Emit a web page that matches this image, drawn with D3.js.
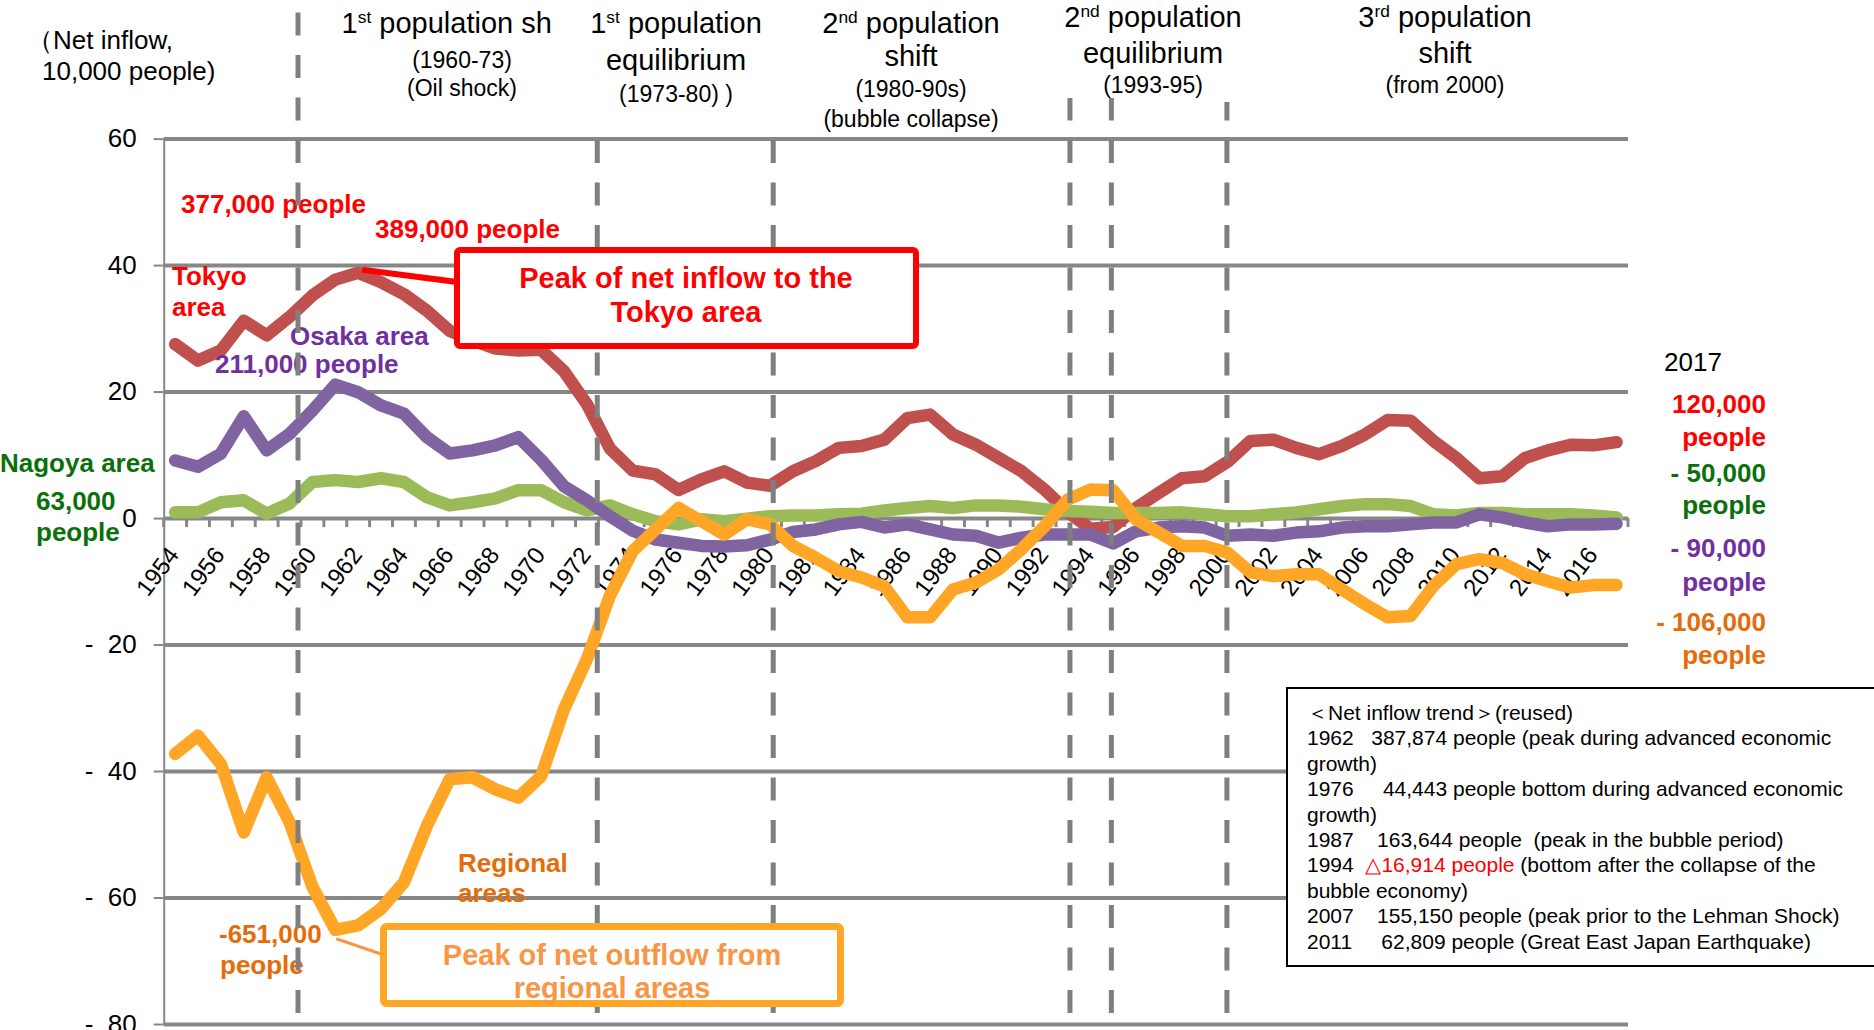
<!DOCTYPE html>
<html>
<head>
<meta charset="utf-8">
<script src="https://cdn.jsdelivr.net/npm/d3@7"></script>
<style>
  html, body { margin: 0; padding: 0; background: #fff; }
  svg { display: block; font-family: "Liberation Sans", Arial, sans-serif; }
</style>
</head>
<body>
<svg id="chart" width="1874" height="1030"></svg>
<script>
// Net inflow by area, units of 10,000 people
const years = [1954,1955,1956,1957,1958,1959,1960,1961,1962,1963,1964,1965,1966,1967,1968,1969,
  1970,1971,1972,1973,1974,1975,1976,1977,1978,1979,1980,1981,1982,1983,1984,1985,1986,1987,1988,1989,
  1990,1991,1992,1993,1994,1995,1996,1997,1998,1999,2000,2001,2002,2003,2004,2005,2006,2007,2008,2009,
  2010,2011,2012,2013,2014,2015,2016,2017];

const tokyoArea = [27.5,24.9,26.5,31.2,28.9,31.8,35.2,37.7,38.8,37.3,35.4,32.8,29.6,28.1,26.8,26.5,
  26.6,23.2,18.0,11.0,7.5,6.9,4.44,6.1,7.4,5.6,5.1,7.4,9.0,11.1,11.4,12.4,15.8,16.36,13.2,11.6,
  9.5,7.4,4.5,1.0,-1.69,-1.4,1.6,4.0,6.3,6.6,8.9,12.2,12.4,11.1,10.1,11.4,13.2,15.52,15.4,12.2,
  9.5,6.28,6.6,9.5,10.7,11.6,11.5,12.0];

const nagoyaArea = [0.9,0.9,2.5,2.8,0.7,2.3,5.7,6.0,5.7,6.3,5.7,3.3,2.0,2.5,3.1,4.4,
  4.4,2.5,1.2,2.0,0.6,-0.5,-1.0,-0.2,-0.5,-0.1,0.3,0.4,0.4,0.6,0.7,1.2,1.6,1.9,1.6,2.0,
  2.0,1.8,1.4,1.1,1.0,0.8,0.8,0.8,0.9,0.6,0.3,0.3,0.6,0.9,1.4,1.9,2.2,2.2,1.9,0.6,
  0.4,0.8,0.8,0.6,0.6,0.6,0.4,0.1];

const osakaArea = [9.1,8.1,10.2,16.1,10.7,13.3,17.0,21.1,19.9,17.8,16.5,12.8,10.2,10.7,11.5,12.8,
  9.2,5.0,2.8,0.3,-2.0,-3.4,-3.9,-4.4,-4.5,-4.3,-3.4,-2.2,-1.8,-1.0,-0.6,-1.5,-1.0,-1.8,-2.6,-2.8,
  -3.9,-3.1,-2.6,-2.6,-2.6,-4.0,-2.1,-1.5,-1.3,-1.5,-2.8,-2.6,-2.8,-2.3,-2.1,-1.5,-1.3,-1.3,-1.0,-0.7,
  -0.7,0.6,0.1,-0.7,-1.3,-1.0,-1.0,-0.9];

const regionalAreas = [-37.3,-34.4,-38.9,-49.7,-41.0,-48.1,-58.3,-65.1,-64.4,-61.8,-57.6,-48.7,-41.3,-41.0,-42.9,-44.2,
  -40.8,-30.2,-22.3,-12.3,-5.2,-1.8,1.6,-0.5,-2.6,-0.2,-1.0,-4.4,-6.3,-8.4,-9.4,-10.8,-15.7,-15.7,-11.3,-10.2,
  -8.1,-4.9,-1.3,2.9,4.5,4.4,-0.2,-2.3,-4.4,-4.4,-5.5,-8.6,-9.2,-8.9,-8.9,-11.3,-13.6,-15.7,-15.5,-10.7,
  -7.3,-6.5,-7.1,-8.9,-10.0,-11.0,-10.6,-10.6];

const yTicks = [60, 40, 20, 0, -20, -40, -60, -80];
const yTickLabels = ["60", "40", "20", "0", "-  20", "-  40", "-  60", "-  80"];

// period boundaries on the year axis
const periodYears = [1960, 1973, 1980, 1993, 1995, 2000];

const trendNotes = [
  {year: "", text: "＜Net inflow trend＞(reused)"},
  {year: "1962", gap: "   ", text: "387,874 people (peak during advanced economic"},
  {year: "", text: "growth)"},
  {year: "1976", gap: "     ", text: "44,443 people bottom during advanced economic"},
  {year: "", text: "growth)"},
  {year: "1987", gap: "    ", text: "163,644 people  (peak in the bubble period)"},
  {year: "1994", gap: "  ", red: "△16,914 people", text: " (bottom after the collapse of the"},
  {year: "", text: "bubble economy)"},
  {year: "2007", gap: "    ", text: "155,150 people (peak prior to the Lehman Shock)"},
  {year: "2011", gap: "     ", text: "62,809 people (Great East Japan Earthquake)"}
];

// ---------------------------------------------------------------------------
const svg = d3.select("#chart");
const left = 163.7, right = 1628;
const x = d3.scaleBand().domain(years).range([left, right]);
const bw = x.bandwidth();
const xc = yr => x(yr) + bw / 2;
const y = d3.scaleLinear().domain([-80, 60]).range([1024, 138.6]);

const GRID = "#878787";

// horizontal gridlines
svg.append("g")
  .attr("transform", `translate(${left},0)`)
  .call(d3.axisLeft(y).tickValues(yTicks).tickSize(-(right - left)).tickSizeOuter(0).tickFormat(""))
  .call(g => {
    g.select(".domain").remove();
    g.selectAll("line").attr("stroke", GRID).attr("stroke-width", 4);
  });

// category tick marks below the zero line, at band edges
const edges = years.map(d => x(d)).concat([x(years[years.length - 1]) + bw]);
svg.append("g").selectAll("line").data(edges).join("line")
  .attr("x1", d => d).attr("x2", d => d)
  .attr("y1", y(0)).attr("y2", y(0) + 9)
  .attr("stroke", GRID).attr("stroke-width", 3);

// value axis
svg.append("g")
  .attr("transform", `translate(${left},0)`)
  .call(d3.axisLeft(y).tickValues(yTicks).tickSize(10).tickSizeOuter(0).tickPadding(17)
    .tickFormat((d, i) => yTickLabels[i]))
  .call(g => {
    g.attr("font-family", null).attr("font-size", 26);
    g.select(".domain").attr("stroke", GRID).attr("stroke-width", 2);
    g.selectAll(".tick line").attr("stroke", GRID).attr("stroke-width", 2);
    g.selectAll("text").attr("fill", "#000").attr("xml:space", "preserve").style("white-space", "pre");
  });

// year labels
svg.append("g")
  .attr("transform", `translate(0,${y(0)})`)
  .call(d3.axisBottom(x).tickValues(years.filter((d, i) => i % 2 === 0)).tickSize(0).tickFormat(d => String(d)))
  .call(g => {
    g.attr("font-family", null).attr("font-size", 24);
    g.select(".domain").remove();
    g.selectAll("text")
      .attr("x", 0).attr("y", 0).attr("dy", 0)
      .attr("fill", "#000")
      .attr("text-anchor", "end")
      .attr("transform", "translate(5,37) rotate(-53)");
  });

// series lines
const series = [
  {name: "Tokyo area", values: tokyoArea, color: "#C0504D"},
  {name: "Nagoya area", values: nagoyaArea, color: "#9BBB59"},
  {name: "Osaka area", values: osakaArea, color: "#8064A2"},
  {name: "Regional areas", values: regionalAreas, color: "#FFA626"}
];
const line = d3.line().x(d => xc(d.year)).y(d => y(d.v));
svg.append("g").selectAll("path").data(series).join("path")
  .attr("d", s => line(s.values.map((v, i) => ({year: years[i], v}))))
  .attr("fill", "none")
  .attr("stroke", s => s.color)
  .attr("stroke-width", 12.5)
  .attr("stroke-linejoin", "round")
  .attr("stroke-linecap", "round");

// text labels on the plot
const labels = svg.append("g").attr("font-weight", "bold").attr("font-size", 26);
function lab(txt, px, py, color, anchor) {
  labels.append("text").attr("x", px).attr("y", py).attr("fill", color)
    .attr("text-anchor", anchor || "start").text(txt);
}
const RED = "#FF0000", PURPLE = "#7030A0", GREEN = "#0B700B", ORANGE = "#E46C0A";
lab("377,000 people", 181, 213, RED);
lab("389,000 people", 375, 238, RED);
lab("Tokyo", 172, 285, RED);
lab("area", 172, 316, RED);
lab("Osaka area", 290, 345, PURPLE);
lab("211,000 people", 215, 373, PURPLE);
lab("Nagoya area", 0, 472, GREEN);
lab("63,000", 36, 510, GREEN);
lab("people", 36, 541, GREEN);
lab("Regional", 458, 872, ORANGE);
lab("areas", 458, 902, ORANGE);
lab("-651,000", 219, 943, ORANGE);
lab("people", 220, 974, ORANGE);

// 2017 values on the right
labels.append("text").attr("x", 1664).attr("y", 371).attr("font-weight", "normal").attr("fill", "#000").text("2017");
lab("120,000", 1766, 413, RED, "end");
lab("people", 1766, 446, RED, "end");
lab("- 50,000", 1766, 482, GREEN, "end");
lab("people", 1766, 514, GREEN, "end");
lab("- 90,000", 1766, 557, PURPLE, "end");
lab("people", 1766, 591, PURPLE, "end");
lab("- 106,000", 1766, 631, ORANGE, "end");
lab("people", 1766, 664, ORANGE, "end");

// dashed period dividers
const dividerNudge = [-0.63, -0.55, 0.14, 0.11, -0.08, -0.03];
const dividerTop = [12, 123, 123, 98, 98, 102];
const DASH = 23, GAP = 19.5, PERIOD = DASH + GAP;
svg.append("g").selectAll("line").data(periodYears).join("line")
  .attr("x1", (d, i) => x(d) + bw * (0.5 + dividerNudge[i]))
  .attr("x2", (d, i) => x(d) + bw * (0.5 + dividerNudge[i]))
  .attr("y1", (d, i) => dividerTop[i])
  .attr("y2", 1030)
  .attr("stroke", "#7F7F7F")
  .attr("stroke-width", 5)
  .attr("stroke-dasharray", `${DASH} ${GAP}`)
  .attr("stroke-dashoffset", (d, i) => (((dividerTop[i] - 12.5) % PERIOD) + PERIOD) % PERIOD);

// unit note
const hdr = svg.append("g").attr("fill", "#000");
hdr.append("text").attr("x", 27).attr("y", 49).attr("font-size", 26).text("（Net inflow,");
hdr.append("text").attr("x", 42).attr("y", 80).attr("font-size", 26).text("10,000 people)");

// period headings
function heading(cx, lines, clipRight) {
  const g = hdr.append("g");
  if (clipRight) {
    const id = "clip" + Math.round(cx);
    svg.append("clipPath").attr("id", id).append("rect")
      .attr("x", 0).attr("y", 0).attr("width", clipRight).attr("height", 200);
    g.attr("clip-path", `url(#${id})`);
  }
  lines.forEach(l => {
    const t = g.append("text").attr("x", cx).attr("y", l.y).attr("text-anchor", "middle")
      .attr("font-size", l.size);
    if (l.sup) {
      t.append("tspan").text(l.pre);
      t.append("tspan").attr("font-size", l.size * 0.6).attr("baseline-shift", "super").text(l.sup);
      t.append("tspan").text(l.post);
    } else {
      t.text(l.text);
    }
  });
}
heading(458, [
  {y: 33, size: 29, pre: "1", sup: "st", post: " population shift"}
], 551);
heading(462, [
  {y: 68, size: 23, text: "(1960-73)"},
  {y: 96, size: 23, text: "(Oil shock)"}
]);
heading(676, [
  {y: 33, size: 29, pre: "1", sup: "st", post: " population"},
  {y: 70, size: 29, text: "equilibrium"},
  {y: 102, size: 23, text: "(1973-80) )"}
]);
heading(911, [
  {y: 33, size: 29, pre: "2", sup: "nd", post: " population"},
  {y: 66, size: 29, text: "shift"},
  {y: 97, size: 23, text: "(1980-90s)"},
  {y: 127, size: 23, text: "(bubble collapse)"}
]);
heading(1153, [
  {y: 27, size: 29, pre: "2", sup: "nd", post: " population"},
  {y: 63, size: 29, text: "equilibrium"},
  {y: 93, size: 23, text: "(1993-95)"}
]);
heading(1445, [
  {y: 27, size: 29, pre: "3", sup: "rd", post: " population"},
  {y: 63, size: 29, text: "shift"},
  {y: 93, size: 23, text: "(from 2000)"}
]);

// callout: peak inflow to Tokyo
const iPeak = years.indexOf(1962);
svg.append("line")
  .attr("x1", xc(1962) + 4).attr("y1", y(tokyoArea[iPeak]) - 3)
  .attr("x2", 457).attr("y2", 282)
  .attr("stroke", RED).attr("stroke-width", 6);
svg.append("rect").attr("x", 457).attr("y", 250).attr("width", 459).attr("height", 96)
  .attr("rx", 3).attr("fill", "#fff").attr("stroke", RED).attr("stroke-width", 6);
const b1 = svg.append("g").attr("font-weight", "bold").attr("font-size", 29).attr("fill", RED).attr("text-anchor", "middle");
b1.append("text").attr("x", 686).attr("y", 288).text("Peak of net inflow to the");
b1.append("text").attr("x", 686).attr("y", 322).text("Tokyo area");

// callout: peak outflow from regional areas
const iLow = years.indexOf(1961);
svg.append("line")
  .attr("x1", xc(1961) + 1).attr("y1", y(regionalAreas[iLow]) + 9)
  .attr("x2", 384).attr("y2", 955)
  .attr("stroke", "#F79646").attr("stroke-width", 3);
svg.append("rect").attr("x", 383.5).attr("y", 926.5).attr("width", 457).attr("height", 77)
  .attr("rx", 3).attr("fill", "#fff").attr("stroke", "#FFA626").attr("stroke-width", 7);
const b2 = svg.append("g").attr("font-weight", "bold").attr("font-size", 29).attr("fill", "#F79646").attr("text-anchor", "middle");
b2.append("text").attr("x", 612).attr("y", 965).text("Peak of net outflow from");
b2.append("text").attr("x", 612).attr("y", 998).text("regional areas");

// trend notes box
svg.append("rect").attr("x", 1287).attr("y", 688).attr("width", 620).attr("height", 278)
  .attr("fill", "#fff").attr("stroke", "#000").attr("stroke-width", 2);
const notes = svg.append("g").attr("font-size", 21).attr("fill", "#000");
trendNotes.forEach((n, i) => {
  const t = notes.append("text").attr("x", 1307).attr("y", 720 + i * 25.4)
    .attr("xml:space", "preserve").style("white-space", "pre");
  if (n.year) t.append("tspan").text(n.year + n.gap);
  if (n.red) t.append("tspan").attr("fill", RED).text(n.red);
  t.append("tspan").text(n.text);
});
</script>
</body>
</html>
